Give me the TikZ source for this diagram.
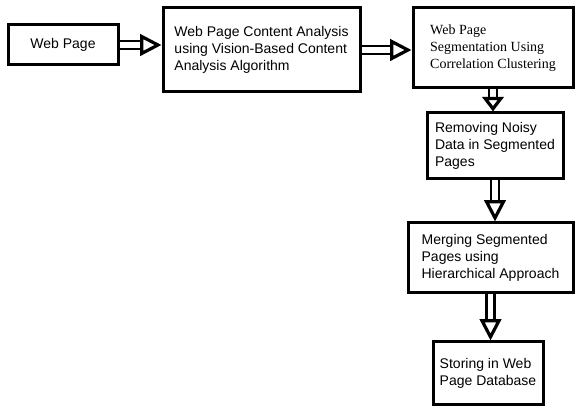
\documentclass[tikz,border=0pt]{standalone}
\usepackage{fontspec}
\setmainfont{Liberation Serif}
\setsansfont{Liberation Sans}
\usetikzlibrary{arrows.meta}
\tikzset{
  box/.style={draw, line width=2.25pt, align=left, inner sep=0pt,
    font=\sffamily\fontsize{10.5}{12.75}\selectfont},
  serifbox/.style={box, font=\rmfamily\fontsize{10.5}{12.75}\selectfont},
  flow/.style={double, line width=2pt, double distance=4pt,
    -{Triangle[open, length=#1, width=16pt, line width=2.4pt, fill=white]}},
  flow/.default=16pt
}
\begin{document}
\begin{tikzpicture}[x=0.75pt,y=0.75pt]
	\useasboundingbox (0,0) rectangle (579,407);
	\node[box, minimum width=82.5pt, minimum height=30pt] at (63,362) (web) {Web Page};
	\node[box, minimum width=147.75pt, minimum height=63pt] at (261.5,357) (vips) {Web Page Content Analysis\\using Vision-Based Content\\Analysis Algorithm};
	\node[serifbox, minimum width=120pt, minimum height=60pt] at (493,359) (seg) {Web Page\\Segmentation Using\\Correlation Clustering};
	\node[box, minimum width=102pt, minimum height=49.5pt] at (495,261) (noise) {Removing Noisy\\Data in Segmented\\Pages};
	\node[box, minimum width=123.75pt, minimum height=52.5pt] at (490.5,149) (merge) {Merging Segmented\\Pages using\\Hierarchical Approach};
	\node[box, minimum width=82.5pt, minimum height=47.25pt] at (488,33.5) (store) {Storing in Web\\Page Database};
	\draw[flow] (web.east) -- (web.east -| vips.west);
	\draw[flow] (vips.east) -- (vips.east -| seg.west);
	\draw[flow=11pt] (seg.south) -- (seg.south |- noise.north);
	\draw[flow] (noise.south) -- (noise.south |- merge.north);
	\draw[flow] (merge.south) -- (merge.south |- store.north);
\end{tikzpicture}
\end{document}
